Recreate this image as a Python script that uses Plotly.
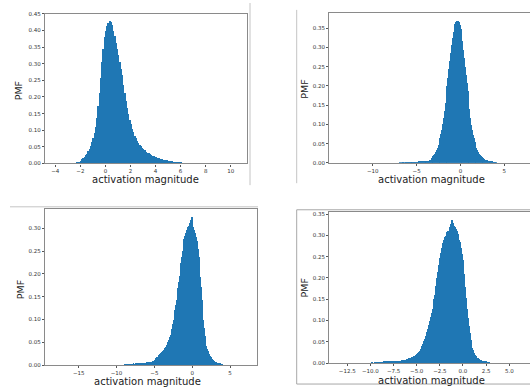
import numpy as np
import plotly.graph_objects as go

BIN_WIDTH = 0.1

# ---- panel 1 (top-left) ----
p1_start = -3.0
p1_pmf = [
    0.000, 0.000, 0.001, 0.001, 0.001, 0.002, 0.002, 0.003, 0.005, 0.006,
    0.008, 0.013, 0.016, 0.020, 0.025, 0.030, 0.037, 0.045, 0.054, 0.064,
    0.077, 0.092, 0.110, 0.138, 0.172, 0.212, 0.258, 0.305, 0.345, 0.380,
    0.400, 0.413, 0.422, 0.428, 0.427, 0.416, 0.400, 0.383, 0.363, 0.344,
    0.326, 0.306, 0.286, 0.266, 0.238, 0.213, 0.189, 0.168, 0.148, 0.130,
    0.118, 0.105, 0.094, 0.084, 0.076, 0.068, 0.062, 0.057, 0.052, 0.048,
    0.043, 0.040, 0.036, 0.033, 0.031, 0.028, 0.026, 0.024, 0.022, 0.020,
    0.019, 0.017, 0.016, 0.015, 0.014, 0.013, 0.012, 0.011, 0.011, 0.010,
    0.009, 0.008, 0.007, 0.007, 0.006, 0.005, 0.005, 0.004, 0.004, 0.003,
    0.003, 0.002, 0.002, 0.002, 0.001, 0.001, 0.001, 0.001, 0.000, 0.000,
]
p1_xticks = [-4, -2, 0, 2, 4, 6, 8, 10]
p1_yticks = [0.00, 0.05, 0.10, 0.15, 0.20, 0.25, 0.30, 0.35, 0.40, 0.45]

# ---- panel 2 (top-right) ----
p2_start = -7.0
p2_pmf = [
    0.000, 0.001, 0.000, 0.001, 0.001, 0.001, 0.000, 0.001, 0.001, 0.001,
    0.001, 0.001, 0.001, 0.001, 0.001, 0.001, 0.002, 0.001, 0.002, 0.002,
    0.002, 0.002, 0.002, 0.003, 0.003, 0.003, 0.003, 0.003, 0.003, 0.003,
    0.003, 0.004, 0.004, 0.005, 0.006, 0.008, 0.009, 0.012, 0.015, 0.018,
    0.021, 0.024, 0.029, 0.034, 0.039, 0.046, 0.055, 0.065, 0.075, 0.087,
    0.101, 0.116, 0.135, 0.155, 0.178, 0.200, 0.222, 0.245, 0.266, 0.287,
    0.307, 0.324, 0.340, 0.352, 0.361, 0.367, 0.370, 0.369, 0.366, 0.358,
    0.348, 0.333, 0.316, 0.295, 0.273, 0.250, 0.228, 0.207, 0.186, 0.163,
    0.141, 0.118, 0.098, 0.085, 0.073, 0.064, 0.054, 0.046, 0.040, 0.034,
    0.029, 0.024, 0.021, 0.018, 0.015, 0.013, 0.012, 0.010, 0.009, 0.008,
    0.007, 0.006, 0.005, 0.004, 0.004, 0.003, 0.003, 0.002, 0.002, 0.001,
    0.001,
]
p2_xticks = [-10, -5, 0, 5]
p2_yticks = [0.00, 0.05, 0.10, 0.15, 0.20, 0.25, 0.30, 0.35]

# ---- panel 3 (bottom-left) ----
p3_start = -9.0
p3_pmf = [
    0.000, 0.001, 0.000, 0.001, 0.000, 0.001, 0.001, 0.000, 0.001, 0.001,
    0.001, 0.001, 0.002, 0.001, 0.001, 0.002, 0.001, 0.002, 0.002, 0.002,
    0.003, 0.002, 0.002, 0.003, 0.003, 0.003, 0.004, 0.003, 0.004, 0.004,
    0.005, 0.004, 0.005, 0.006, 0.005, 0.006, 0.007, 0.008, 0.007, 0.009,
    0.011, 0.012, 0.014, 0.016, 0.018, 0.020, 0.022, 0.024, 0.026, 0.027,
    0.029, 0.031, 0.033, 0.035, 0.037, 0.040, 0.043, 0.047, 0.050, 0.055,
    0.060, 0.066, 0.072, 0.079, 0.089, 0.099, 0.109, 0.120, 0.131, 0.142,
    0.155, 0.168, 0.182, 0.196, 0.210, 0.223, 0.236, 0.250, 0.262, 0.276,
    0.282, 0.290, 0.295, 0.287, 0.302, 0.305, 0.298, 0.312, 0.318, 0.325,
    0.310, 0.303, 0.296, 0.290, 0.286, 0.281, 0.272, 0.255, 0.236, 0.214,
    0.192, 0.170, 0.143, 0.118, 0.098, 0.080, 0.063, 0.051, 0.042, 0.035,
    0.030, 0.027, 0.023, 0.020, 0.017, 0.014, 0.012, 0.010, 0.008, 0.007,
    0.006, 0.005, 0.004, 0.003, 0.003, 0.002, 0.002, 0.001, 0.001, 0.001,
]
p3_xticks = [-15, -10, -5, 0, 5]
p3_yticks = [0.00, 0.05, 0.10, 0.15, 0.20, 0.25, 0.30]

# ---- panel 4 (bottom-right) ----
p4_start = -10.0
p4_pmf = [
    0.000, 0.000, 0.001, 0.000, 0.000, 0.001, 0.000, 0.001, 0.001, 0.000,
    0.001, 0.001, 0.001, 0.001, 0.002, 0.001, 0.002, 0.002, 0.002, 0.002,
    0.002, 0.003, 0.002, 0.003, 0.003, 0.003, 0.003, 0.004, 0.004, 0.004,
    0.004, 0.005, 0.005, 0.005, 0.006, 0.006, 0.006, 0.007, 0.007, 0.008,
    0.008, 0.009, 0.010, 0.011, 0.012, 0.013, 0.014, 0.015, 0.016, 0.018,
    0.020, 0.022, 0.025, 0.028, 0.031, 0.035, 0.039, 0.044, 0.050, 0.056,
    0.063, 0.071, 0.080, 0.089, 0.098, 0.107, 0.117, 0.127, 0.138, 0.149,
    0.160, 0.180, 0.198, 0.214, 0.229, 0.245, 0.257, 0.269, 0.280, 0.288,
    0.295, 0.298, 0.302, 0.306, 0.310, 0.304, 0.318, 0.325, 0.334, 0.328,
    0.322, 0.318, 0.314, 0.309, 0.302, 0.295, 0.289, 0.283, 0.270, 0.255,
    0.240, 0.208, 0.178, 0.152, 0.127, 0.105, 0.085, 0.069, 0.054, 0.043,
    0.035, 0.029, 0.023, 0.019, 0.015, 0.012, 0.010, 0.008, 0.007, 0.006,
    0.005, 0.004, 0.003, 0.003, 0.002, 0.002, 0.001, 0.001, 0.001, 0.000,
    0.000,
]
p4_xticks = [-12.5, -10.0, -7.5, -5.0, -2.5, 0.0, 2.5, 5.0]
p4_yticks = [0.00, 0.05, 0.10, 0.15, 0.20, 0.25, 0.30, 0.35]

X_LABEL = "activation magnitude"
Y_LABEL = "PMF"

W, H = 530, 390


def px(x):
    return x / W


def py(y):
    return 1 - y / H


BAR_COLOR = "#1f77b4"
SPINE = "#8a8a8a"
TICKFONT = dict(family="DejaVu Sans", size=5.5, color="#333333")

panels = [
    # start, pmf, xticks, yticks, xdomain px, ydomain px, xrange, yrange, xfmt, right spine
    (p1_start, p1_pmf, p1_xticks, p1_yticks, (45, 247), (11, 163), (-4.82, 11.3), (0, 0.45), "d", True),
    (p2_start, p2_pmf, p2_xticks, p2_yticks, (329.3, 530), (10, 162.3), (-14.95, 7.93), (0, 0.390), "d", False),
    (p3_start, p3_pmf, p3_xticks, p3_yticks, (45, 257.3), (209.5, 367.7), (-19.45, 8.6), (0, 0.342), "d", True),
    (p4_start, p4_pmf, p4_xticks, p4_yticks, (329.3, 530), (212.7, 365.7), (-14.44, 7.24), (0, 0.3537), ".1f", False),
]

fig = go.Figure()
layout = {}
for i, (start, pmf, xt, yt, xd, yd, xr, yr, xfmt, rspine) in enumerate(panels, 1):
    centers = start + BIN_WIDTH * (np.arange(len(pmf)) + 0.5)
    sfx = "" if i == 1 else str(i)
    fig.add_trace(go.Bar(
        x=centers, y=pmf, width=BIN_WIDTH,
        marker=dict(color=BAR_COLOR, line=dict(width=0)),
        xaxis="x" + sfx, yaxis="y" + sfx, showlegend=False,
    ))
    layout["xaxis" + sfx] = dict(
        domain=[px(xd[0]), px(xd[1])], range=list(xr), anchor="y" + sfx,
        tickvals=xt, tickformat=xfmt, tickfont=TICKFONT,
        ticks="outside", ticklen=2, tickwidth=0.8, tickcolor="#555",
        showline=True, linecolor=SPINE, linewidth=1.3, mirror=True,
        showgrid=False, zeroline=False, fixedrange=True,
    )
    layout["yaxis" + sfx] = dict(
        domain=[py(yd[1]), py(yd[0])], range=list(yr), anchor="x" + sfx,
        tickvals=yt, tickformat=".2f", tickfont=TICKFONT,
        ticks="outside", ticklen=2, tickwidth=0.8, tickcolor="#555",
        showline=True, linecolor=SPINE, linewidth=1.3, mirror=rspine,
        showgrid=False, zeroline=False, fixedrange=True,
    )

label_pos = [
    ((18.7, 89), (145.5, 179.5)),
    ((305, 88), (431.7, 179)),
    ((20, 291.7), (147.5, 384)),
    ((305, 290), (431.7, 383)),
]
ann = []
for (yl, xl) in label_pos:
    ann.append(dict(text=Y_LABEL, x=px(yl[0]), y=py(yl[1]), xref="paper", yref="paper",
                    showarrow=False, textangle=-90, xanchor="center", yanchor="middle",
                    font=dict(family="DejaVu Sans", size=9.5, color="#222")))
    ann.append(dict(text=X_LABEL, x=px(xl[0]), y=py(xl[1]), xref="paper", yref="paper",
                    showarrow=False, xanchor="center", yanchor="middle",
                    font=dict(family="DejaVu Sans", size=10, color="#222")))

SEP = "#c4c4c4"
shapes = [
    dict(type="line", xref="paper", yref="paper", x0=px(250), x1=px(250), y0=py(185), y1=py(0),
         line=dict(color=SEP, width=1)),
    dict(type="line", xref="paper", yref="paper", x0=px(296.7), x1=px(296.7), y0=py(183), y1=py(7),
         line=dict(color=SEP, width=1)),
    dict(type="line", xref="paper", yref="paper", x0=px(10), x1=px(258), y0=py(207), y1=py(207),
         line=dict(color=SEP, width=1)),
    dict(type="line", xref="paper", yref="paper", x0=px(296.7), x1=px(296.7), y0=py(387), y1=py(210),
         line=dict(color="#a8a8a8", width=1)),
    dict(type="line", xref="paper", yref="paper", x0=px(296.7), x1=1, y0=py(210), y1=py(210),
         line=dict(color="#a8a8a8", width=1)),
    dict(type="line", xref="paper", yref="paper", x0=px(296.7), x1=1, y0=py(387), y1=py(387),
         line=dict(color="#a8a8a8", width=1)),
]

fig.update_layout(
    width=W, height=H, margin=dict(l=0, r=0, t=0, b=0),
    paper_bgcolor="white", plot_bgcolor="white",
    bargap=0, barmode="overlay",
    annotations=ann, shapes=shapes, **layout,
)
fig.write_html(
    "out.html",
    config={"displayModeBar": False},
    post_script="document.body.style.margin='0px';document.body.style.overflow='hidden';",
)
